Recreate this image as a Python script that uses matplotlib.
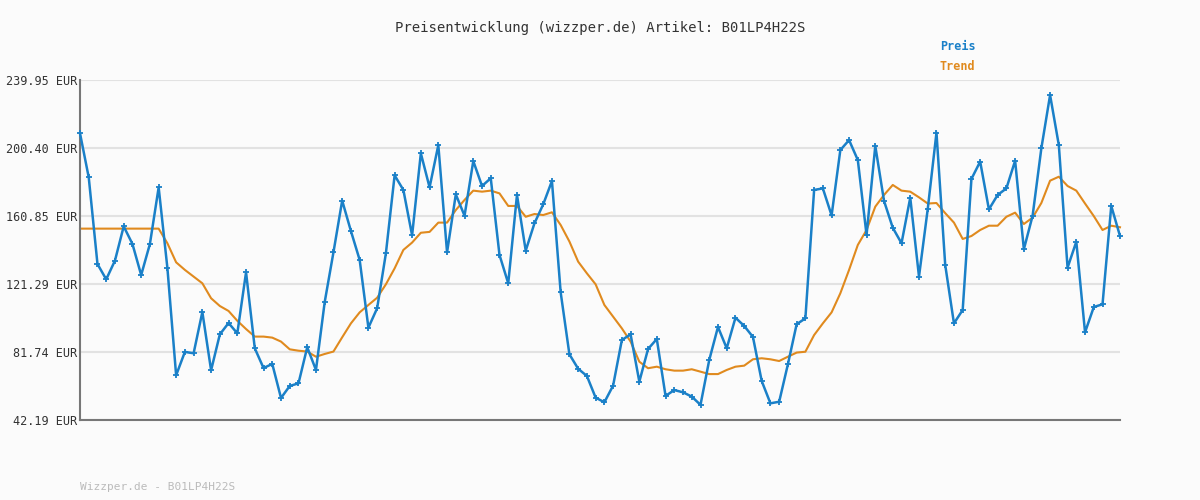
import matplotlib
matplotlib.use("Agg")
import matplotlib.pyplot as plt

preis = [208.95,183.3,132.9,124.0,134.9,154.8,144.6,126.5,144.6,177.5,130.6,68.2,81.8,81.0,105.0,71.1,92.0,98.6,92.6,128.1,
83.9,72.4,74.8,55.0,62.0,63.5,84.5,71.3,110.8,139.7,169.8,152.1,135.3,95.9,107.2,139.1,184.5,176.0,149.6,197.3,177.5,
202.1,139.7,173.4,161.0,192.8,178.3,182.8,138.2,121.7,173.1,140.7,156.6,167.6,181.2,116.4,80.4,72.0,67.8,55.2,52.5,62.2,
88.7,92.0,64.5,83.5,89.3,56.2,59.6,58.3,55.8,51.0,77.1,96.3,83.9,101.7,96.9,90.5,64.9,51.9,52.8,
74.6,97.9,101.3,176.0,176.9,161.2,199.2,205.0,193.4,149.8,201.6,169.6,154.0,145.0,171.5,125.6,164.9,209.3,132.4,98.4,
106.2,182.4,192.5,164.7,173.1,176.9,193.0,141.5,161.0,200.2,231.2,202.1,130.8,145.9,93.2,107.9,109.5,166.7,149.2]
trend = [153.5]*10 + [145,133.9,129.5,125.6,121.7,113.0,108.5,105.6,99.9,95.1,90.7,90.7,90.1,87.8,83.3,82.5,82.0,79.0,80.6,82.0,
90.3,98.4,104.8,109.1,113.3,121.1,130.4,141.1,145.4,151.1,151.6,157.0,157.0,164.3,170.2,175.6,175.0,175.6,174.0,166.7,
166.7,160.4,162.0,161.4,163.0,155.6,146.0,134.3,127.5,121.1,109.1,102.3,95.5,87.8,76.1,72.3,73.2,71.7,70.9,70.9,
71.7,70.3,68.9,68.9,71.3,73.2,73.8,77.5,78.1,77.5,76.5,79.0,81.4,81.9,91.6,98.4,104.8,115.9,129.5,144.0,
152.7,166.3,173.1,178.9,175.6,175.0,171.7,168.1,168.4,162.5,157.0,147.5,149.2,152.7,155.2,155.2,160.4,162.8,156.2,159.9,
168.4,181.4,183.7,178.3,175.6,168.1,160.8,152.7,155.2,154.3]
yticks = [42.19, 81.74, 121.29, 160.85, 200.40, 239.95]

bg = "#fbfbfb"
fig = plt.figure(figsize=(12, 5), dpi=100, facecolor=bg)
ax = fig.add_axes([80/1200, 80/500, 1040/1200, 340/500], facecolor=bg)
x = list(range(len(preis)))
ax.plot(x, trend, color="#e08a1e", lw=1.5, zorder=2, clip_on=False)
ax.plot(x, preis, color="#1a80c8", lw=1.8, marker="+", ms=4, mew=1.3, zorder=3, clip_on=False)
ax.set_xlim(0, len(preis) - 1)
ax.set_ylim(42.19, 239.95)
ax.set_yticks(yticks)
ax.set_yticklabels([f"{v:.2f} EUR" for v in yticks], family="DejaVu Sans Mono", fontsize=8.5, color="#333333")
ax.tick_params(axis="y", length=0, pad=2)
ax.set_xticks([])
ax.grid(axis="y", color="#e2e2e2", lw=1.5)
for s in ["top", "right"]:
    ax.spines[s].set_visible(False)
for s in ["left", "bottom"]:
    ax.spines[s].set_color("#777777")
    ax.spines[s].set_linewidth(1.5)
fig.text(0.5, 1 - 28/500, "Preisentwicklung (wizzper.de) Artikel: B01LP4H22S", ha="center", va="center",
         family="DejaVu Sans Mono", fontsize=10, color="#333333")
fig.text(940/1200, 1 - 47/500, "Preis", color="#1a80c8", family="DejaVu Sans Mono", fontsize=8.5, weight="bold", va="center")
fig.text(940/1200, 1 - 67/500, "Trend", color="#e08a1e", family="DejaVu Sans Mono", fontsize=8.5, weight="bold", va="center")
fig.text(80/1200, 1 - 487/500, "Wizzper.de - B01LP4H22S", color="#bbbbbb", family="DejaVu Sans Mono", fontsize=8, va="center")
fig.savefig("out.png", dpi=100, facecolor=bg)
